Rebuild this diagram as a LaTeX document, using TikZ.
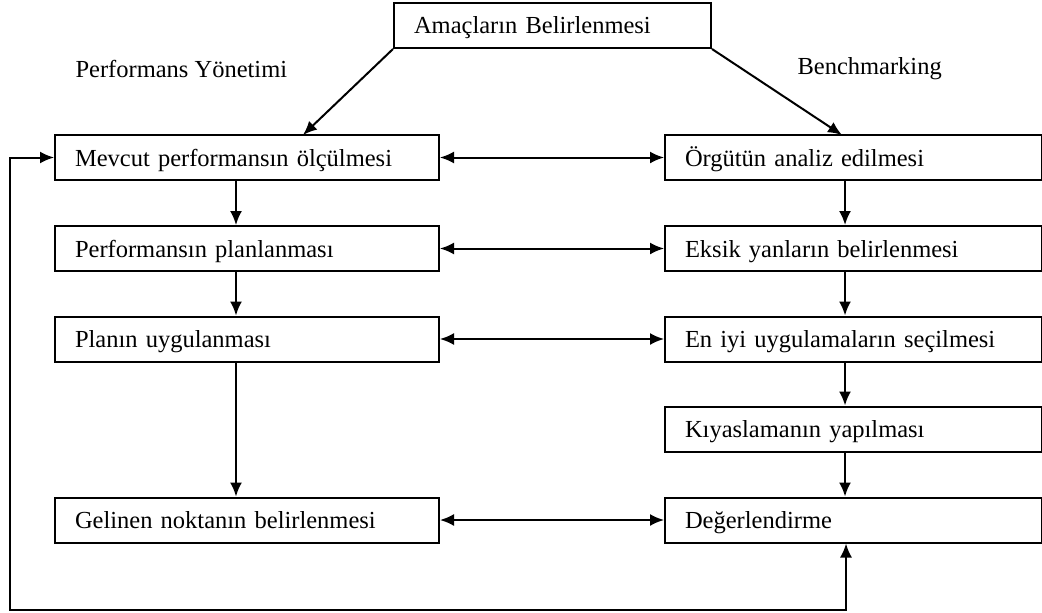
\documentclass[tikz,border=0pt]{standalone}
\usepackage{fontspec}
\setmainfont{Liberation Serif}
\usetikzlibrary{arrows.meta}
\usepackage{xcolor}
\begin{document}
\begin{tikzpicture}[x=1pt,y=-1pt]

\tikzset{box/.style = {shape=rectangle,draw,line width=2pt,anchor=west,align=left,inner xsep=20pt,minimum height=45pt,text height=19pt,text depth=2pt,font=\fontsize{24.5}{28}\selectfont}}
\tikzset{lbox/.style = {box,text width=344pt}}
\tikzset{rbox/.style = {box,text width=337pt}}
\tikzset{edge/.style = {line width=2pt,> = {Latex[length=14pt,width=12pt]}}}
\useasboundingbox (0,0) rectangle (1042,613);
\node[box,text width=277pt] (goal) at (393,25.5) {Amaçların Belirlenmesi};
\node[anchor=west,font=\fontsize{24.5}{28}\selectfont] (pm) at (72,69) {Performans Yönetimi};
\node[anchor=west,font=\fontsize{24.5}{28}\selectfont] (bm) at (794,69) {Benchmarking};
\node[lbox] (mevcut) at (54,157.5) {Mevcut performansın ölçülmesi};
\node[lbox] (plan) at (54,248.5) {Performansın planlanması};
\node[lbox] (uygula) at (54,339) {Planın uygulanması};
\node[lbox] (gelinen) at (54,520) {Gelinen noktanın belirlenmesi};
\node[rbox] (orgut) at (664,157.5) {Örgütün analiz edilmesi};
\node[rbox] (eksik) at (664,248.5) {Eksik yanların belirlenmesi};
\node[rbox] (eniyi) at (664,339) {En iyi uygulamaların seçilmesi};
\node[rbox] (kiyas) at (664,429) {Kıyaslamanın yapılması};
\node[rbox] (deger) at (664,520) {Değerlendirme};
\coordinate (colL) at (236,0);
\coordinate (colR) at (845,0);
\coordinate (loopL) at (10,610);
\coordinate (loopR) at (846,610);
%edges
\draw[edge,->] (goal.south west) -- (303,135);
\draw[edge,->] (goal.south east) -- (842,135);
\draw[edge,->] (mevcut.south -| colL) -- (plan.north -| colL);
\draw[edge,->] (plan.south -| colL) -- (uygula.north -| colL);
\draw[edge,->] (uygula.south -| colL) -- (gelinen.north -| colL);
\draw[edge,->] (orgut.south -| colR) -- (eksik.north -| colR);
\draw[edge,->] (eksik.south -| colR) -- (eniyi.north -| colR);
\draw[edge,->] (eniyi.south -| colR) -- (kiyas.north -| colR);
\draw[edge,->] (kiyas.south -| colR) -- (deger.north -| colR);
\draw[edge,<->] (mevcut) -- (orgut);
\draw[edge,<->] (plan) -- (eksik);
\draw[edge,<->] (uygula) -- (eniyi);
\draw[edge,<->] (gelinen) -- (deger);
\draw[edge,<->] (mevcut.west) -| (loopL) -- (loopR) -- (deger.south -| loopR);
\end{tikzpicture}
\end{document}
